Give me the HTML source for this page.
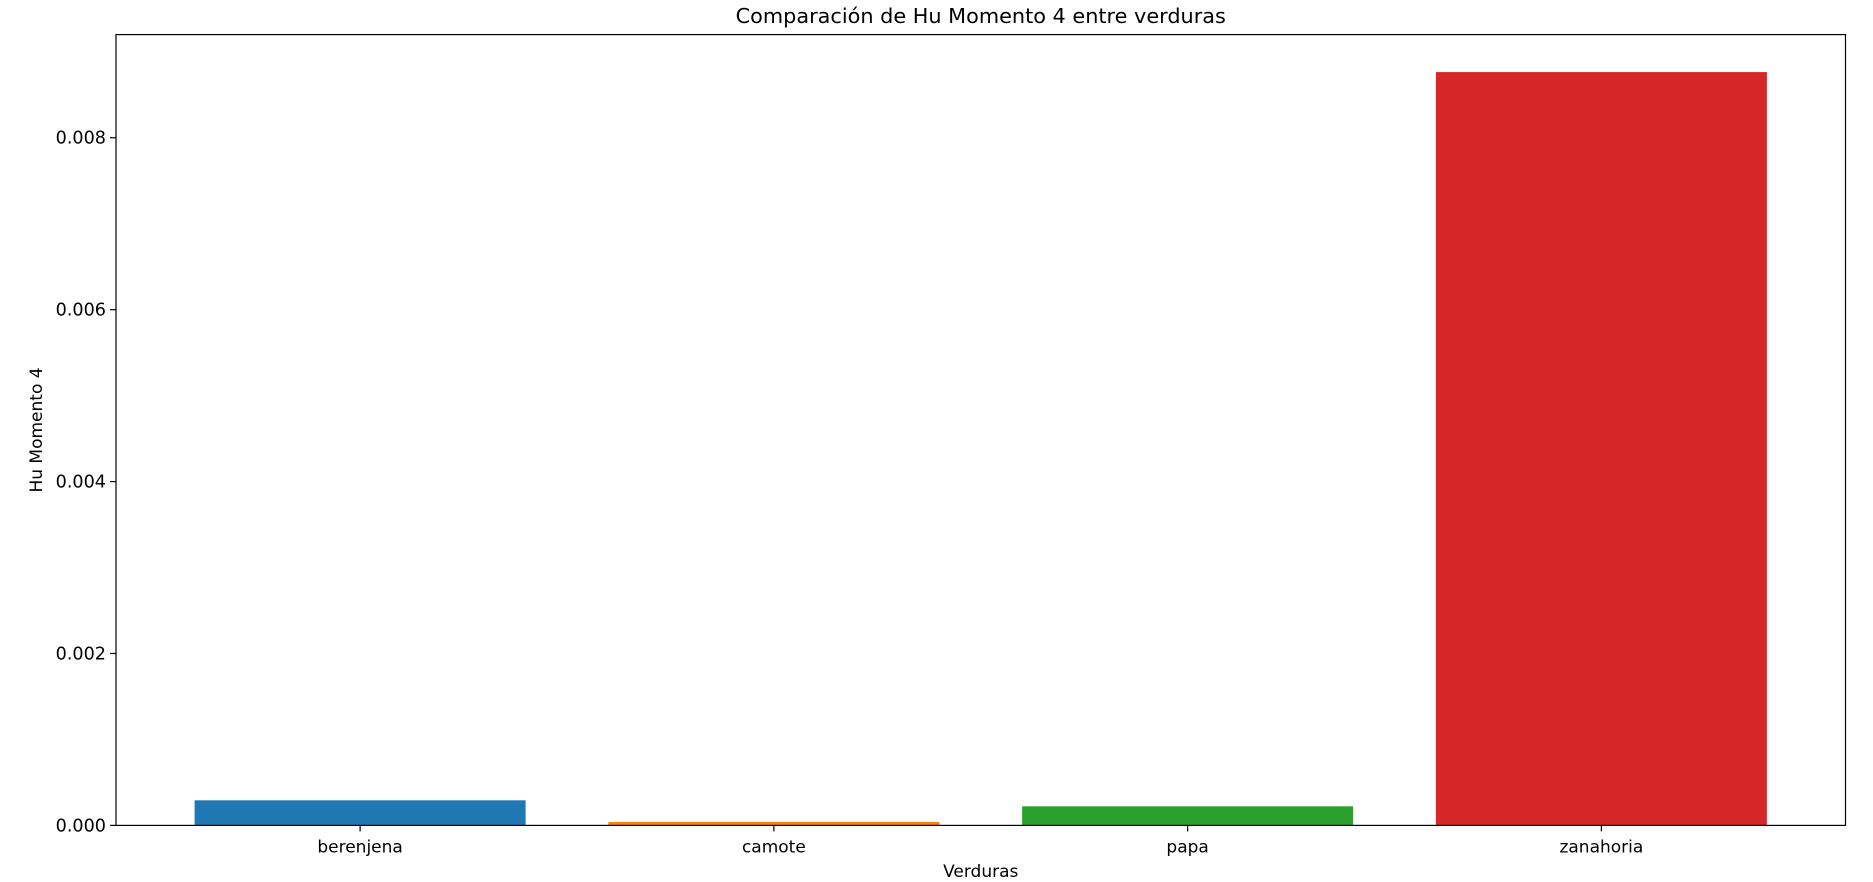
<!DOCTYPE html>
<html><head><meta charset="utf-8"><style>
body{margin:0;background:#fff;}
svg text{font-family:"DejaVu Sans","Liberation Sans",sans-serif;fill:#000;}
</style></head><body>
<svg id="chart" width="1873" height="877" xmlns="http://www.w3.org/2000/svg"></svg>
<script>
const categories = ["berenjena","camote","papa","zanahoria"];
const values = [0.000292, 0.00004, 0.000222, 0.008764];
const colors = ["#1f77b4","#ff7f0e","#2ca02c","#d62728"];
const yTicks = [0, 0.002, 0.004, 0.006, 0.008];
const yTickLabels = ["0.000","0.002","0.004","0.006","0.008"];

const L=116, R=1845.5, T=34.6, B=825.4;
const xMin=-0.59, xMax=3.59, yMin=0, yMax=0.0092;
const xs = v => L + (v - xMin) / (xMax - xMin) * (R - L);
const ys = v => B - (v - yMin) / (yMax - yMin) * (B - T);
const svg = document.getElementById('chart');
const NS = "http://www.w3.org/2000/svg";
function mk(tag, attrs, text){
  const e = document.createElementNS(NS, tag);
  for (const k in attrs) e.setAttribute(k, attrs[k]);
  if (text !== undefined) e.textContent = text;
  svg.appendChild(e);
  return e;
}
categories.forEach((c,i)=>{
  const x0 = xs(i-0.4), x1 = xs(i+0.4);
  const b = mk('rect',{x:x0,y:ys(values[i]),width:x1-x0,height:ys(0)-ys(values[i]),fill:colors[i]});
  
  
  const t = mk('line',{x1:xs(i),x2:xs(i),y1:B,y2:B+6,stroke:'#000','stroke-width':1.2});
  
  
  const l = mk('text',{x:xs(i),y:B+27,'text-anchor':'middle','font-size':'17px'},c);
  
  
});
yTicks.forEach((v,i)=>{
  const t = mk('line',{x1:L-6,x2:L,y1:ys(v),y2:ys(v),stroke:'#000','stroke-width':1.2});
  
  
  const l = mk('text',{x:L-10,y:ys(v)+6,'text-anchor':'end','font-size':'17.6px'},yTickLabels[i]);
  
  
});
const frame = mk('rect',{x:L,y:T,width:R-L,height:B-T,fill:'none',stroke:'#000','stroke-width':1.2});


const title = mk('text',{x:(L+R)/2,y:23,'text-anchor':'middle','font-size':'20.8px'},'Comparación de Hu Momento 4 entre verduras');


const xl = mk('text',{x:(L+R)/2,y:877,'text-anchor':'middle','font-size':'17px'},'Verduras');


const yl = mk('text',{x:0,y:0,'text-anchor':'middle','font-size':'17px',transform:'translate(42,'+((T+B)/2)+') rotate(-90)'},'Hu Momento 4');


</script>
</body></html>
